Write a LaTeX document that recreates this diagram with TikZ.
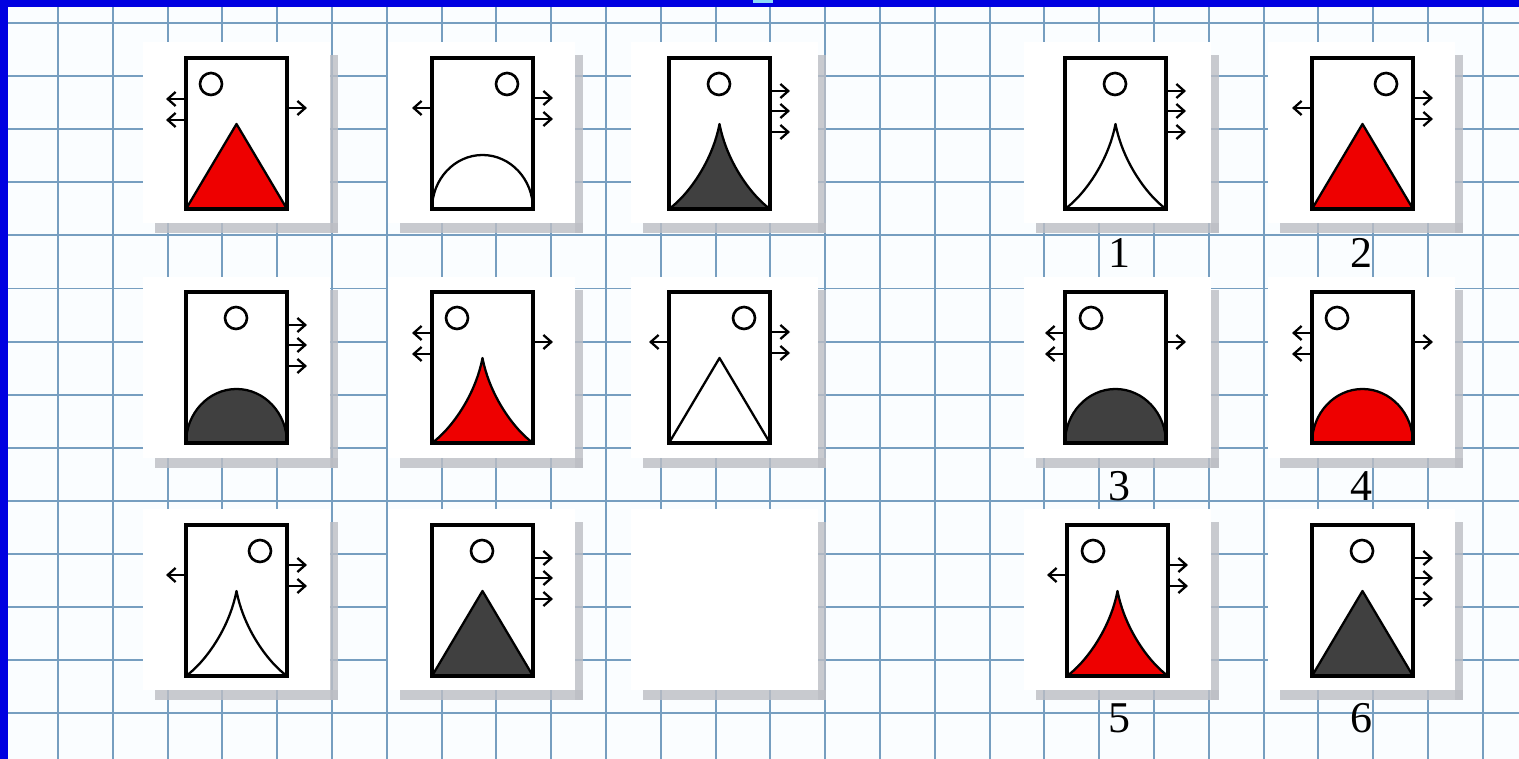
\documentclass[tikz,border=0pt]{standalone}
\usepackage{fontspec}
\setmainfont{Liberation Serif}
\usepackage{tikz}
\usetikzlibrary{arrows.meta}

\definecolor{gridblue}{RGB}{118,158,192}
\definecolor{paper}{RGB}{250,253,255}
\definecolor{frameblue}{RGB}{0,0,225}
\definecolor{shadowgray}{RGB}{188,190,196}
\definecolor{cardred}{RGB}{238,0,0}
\definecolor{carddark}{RGB}{64,64,64}

% white tile with its grey shadow on the right and below
\newcommand{\tilebox}[2]{%
  \fill[white] (#1,#2) rectangle ++(187,181);
  \fill[tileshadow] (#1+187,#2+13) rectangle ++(8,178);
  \fill[tileshadow] (#1+12,#2+181) rectangle ++(183,10);
}

% figures at the foot of a card
\newcommand{\shptri}[1]{\filldraw[figline, fill=#1] (0,151) -- (50.5,66) -- (101,151) -- cycle;}
\newcommand{\shpcusp}[1]{\filldraw[figline, fill=#1] (0,151) .. controls (18,138) and (43,105) .. (50.5,66) .. controls (58,105) and (83,138) .. (101,151) -- cycle;}
\newcommand{\shpdome}[1]{\filldraw[figline, fill=#1] (0,151) arc[start angle=180, end angle=360, x radius=50.5, y radius=54] -- cycle;}

% card: top left, ring x, arrows left, arrows right, figure, fill
\newcommand{\cardbox}[7]{%
  \begin{scope}[shift={(#1,#2)}]
    \csname shp#6\endcsname{#7}
    \draw[cardframe] (0,0) rectangle (101,151);
    \draw[ringmark] (#3,26) circle (11);
    \ifcase#4\or
      \draw[outarrow] (0,50) -- ++(-20,0);
    \or
      \draw[outarrow] (0,41) -- ++(-20,0);
      \draw[outarrow] (0,62) -- ++(-20,0);
    \fi
    \ifcase#5\or
      \draw[outarrow] (101,50) -- ++(20,0);
    \or
      \draw[outarrow] (101,40) -- ++(20,0);
      \draw[outarrow] (101,61) -- ++(20,0);
    \or
      \draw[outarrow] (101,33) -- ++(20,0);
      \draw[outarrow] (101,53) -- ++(20,0);
      \draw[outarrow] (101,74) -- ++(20,0);
    \fi
  \end{scope}
}

\begin{document}
\begin{tikzpicture}[
    x=0.02cm, y=-0.02cm,
    gridline/.style={draw=gridblue, line width=1.1pt},
    tileshadow/.style={fill=shadowgray, opacity=0.8},
    cardframe/.style={draw=black, line width=1.9pt},
    figline/.style={draw=black, line width=1.3pt, line join=round},
    ringmark/.style={draw=black, line width=1.5pt},
    outarrow/.style={-{Straight Barb[length=4.5pt,width=8pt]}, line width=1.3pt},
    numlabel/.style={font=\fontsize{25}{25}\selectfont, inner sep=0pt}
  ]
  % sheet
  \useasboundingbox (0,0) rectangle (1519,759);
  \fill[paper] (0,0) rectangle (1519,759);

  % squared paper
  \foreach \gx in {0,...,26}
    \draw[gridline] ({58+54.8*\gx},0) -- ({58+54.8*\gx},759);
  \foreach \gy in {0,...,13}
    \draw[gridline] (0,{23+53.1*\gy}) -- (1519,{23+53.1*\gy});

  % tiles
  \foreach \tx in {143,388,631,1024,1268}{
    \foreach \ty in {42,277,509}{
      \tilebox{\tx}{\ty}
    }
  }

  % blue edge
  \fill[frameblue] (0,0) rectangle (1519,7);
  \fill[frameblue] (0,0) rectangle (8,759);
  \fill[cyan!45] (753,0) rectangle (773,3);

  % left block
  \cardbox{186}{58}{25}{2}{1}{tri}{cardred}
  \cardbox{432}{58}{75}{1}{2}{dome}{white}
  \cardbox{669}{58}{50}{0}{3}{cusp}{carddark}
  \cardbox{186}{292}{50}{0}{3}{dome}{carddark}
  \cardbox{432}{292}{25}{2}{1}{cusp}{cardred}
  \cardbox{669}{292}{75}{1}{2}{tri}{white}
  \cardbox{186}{525}{74}{1}{2}{cusp}{white}
  \cardbox{432}{525}{50}{0}{3}{tri}{carddark}

  % answers
  \cardbox{1065}{58}{50}{0}{3}{cusp}{white}
  \cardbox{1312}{58}{74}{1}{2}{tri}{cardred}
  \cardbox{1065}{292}{26}{2}{1}{dome}{carddark}
  \cardbox{1312}{292}{25}{2}{1}{dome}{cardred}
  \cardbox{1067}{525}{26}{1}{2}{cusp}{cardred}
  \cardbox{1312}{525}{50}{0}{3}{tri}{carddark}

  \node[numlabel] (n1) at (1119,253) {1};
  \node[numlabel] (n2) at (1361,253) {2};
  \node[numlabel] (n3) at (1119,486) {3};
  \node[numlabel] (n4) at (1361,486) {4};
  \node[numlabel] (n5) at (1119,718) {5};
  \node[numlabel] (n6) at (1361,718) {6};

\end{tikzpicture}
\end{document}
